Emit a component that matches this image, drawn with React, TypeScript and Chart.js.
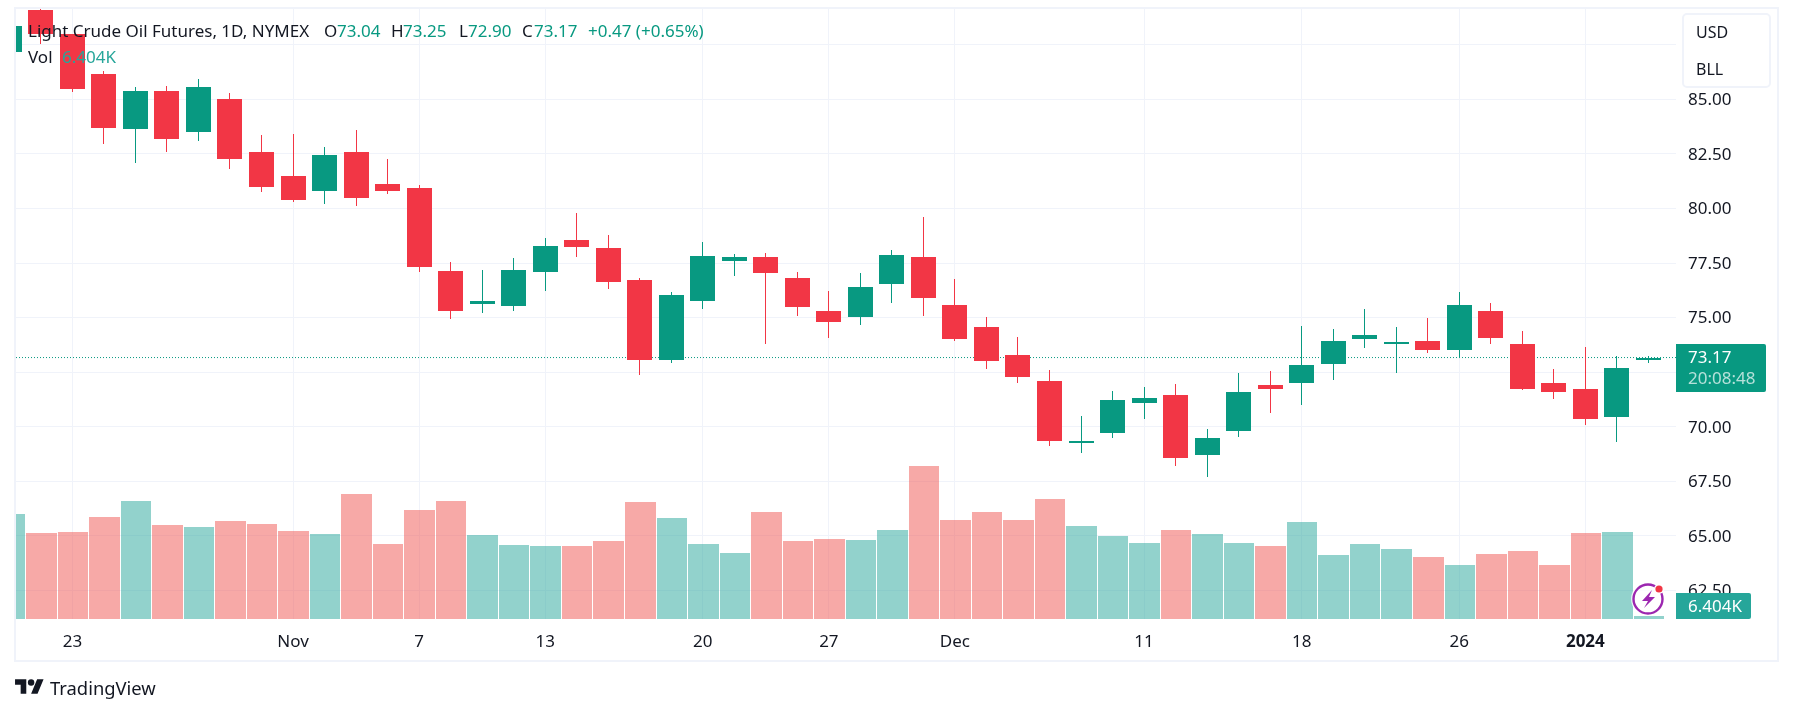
import React, { useEffect, useRef } from "react";
import { Chart, registerables } from "chart.js";

Chart.register(...registerables);

const opens = [87.18,89.09,87.99,86.16,83.64,85.38,83.50,85.02,82.59,81.49,80.80,82.59,81.12,80.94,77.14,75.63,75.53,77.09,78.56,78.19,76.73,73.06,75.76,77.60,77.78,76.82,75.31,75.03,76.54,77.78,75.58,74.57,73.29,72.10,69.26,69.72,71.09,71.46,68.71,69.81,71.92,72.01,72.88,74.02,73.79,73.93,73.52,75.31,73.79,72.01,71.73,70.45,73.04];
const closes = [88.37,87.99,85.47,83.69,85.38,83.18,85.56,82.27,80.98,80.39,82.45,80.48,80.80,77.32,75.31,75.76,77.18,78.28,78.24,76.63,73.06,76.04,77.82,77.78,77.05,75.49,74.80,76.40,77.87,75.90,74.02,73.02,72.28,69.35,69.35,71.23,71.32,68.57,69.49,71.60,71.73,72.83,73.93,74.21,73.89,73.52,75.58,74.07,71.73,71.60,70.36,72.69,73.17];
const highs = [88.60,89.17,88.00,86.30,85.56,85.61,85.93,85.29,83.37,83.41,82.82,83.60,82.27,81.08,77.55,77.18,77.73,78.65,79.79,78.79,76.82,76.18,78.47,77.92,77.96,77.09,76.22,77.05,78.10,79.61,76.77,75.03,74.11,72.60,70.50,71.64,71.82,71.96,69.90,72.47,72.56,74.62,74.48,75.40,74.57,74.98,76.18,75.67,74.39,72.65,73.66,73.25,73.25];
const lows = [87.00,87.53,85.34,82.95,82.08,82.59,83.09,81.81,80.76,80.30,80.21,80.11,80.66,77.09,74.94,75.21,75.31,76.22,77.78,76.31,72.39,72.92,75.40,76.91,73.79,75.08,74.07,74.66,75.67,75.08,73.93,72.65,72.01,69.12,68.80,69.49,70.36,68.21,67.70,69.53,70.63,71.00,72.15,73.61,72.47,73.38,73.21,73.79,71.69,71.27,70.08,69.31,72.90];
const volumes = [224,184,186,218,252,201,196,209,203,188,181,267,160,233,252,179,158,156,156,167,250,216,160,141,228,167,171,169,190,327,211,228,211,256,199,177,162,190,181,162,156,207,137,160,149,132,115,139,145,115,184,186,6.404];

const xTickIndexes = [2, 9, 13, 17, 22, 26, 30, 36, 41, 46, 50];
const xTickLabels = ["23", "Nov", "7", "13", "20", "27", "Dec", "11", "18", "26", "2024"];
const priceTicks = [87.5, 85, 82.5, 80, 77.5, 75, 72.5, 70, 67.5, 65, 62.5];
const lastPrice = 73.17;

const xMin = 0.2107;
const xMax = 52.876;
const yMin = 61.193;
const yMax = 89.137;
const volMax = 1302;

const UP = "#089981";
const DOWN = "#F23645";
const UP_VOL = "rgba(38,166,154,0.5)";
const DOWN_VOL = "rgba(239,83,80,0.5)";
const GRID = "#f0f3fa";
const TEXT = "#131722";
const FONT = '"Noto Sans", sans-serif';

const idx = opens.map((_, i) => i);
const isUp = (i: number) => closes[i] >= opens[i];

const abs = (left: number, top: number, extra: any = {}): any => ({
  position: "absolute",
  left,
  top,
  whiteSpace: "nowrap",
  fontFamily: FONT,
  ...extra,
});

// Snap bars to whole device pixels, so wicks stay crisp as in the reference.
const snapBars = {
  id: "snapBars",
  afterDatasetsUpdate(chart: any) {
    chart.data.datasets.forEach((ds: any, di: number) => {
      if (ds.type === "line") return;
      const meta = chart.getDatasetMeta(di);
      const xs = chart.scales.x;
      const step = Math.abs(xs.getPixelForValue(1) - xs.getPixelForValue(0));
      meta.data.forEach((el: any) => {
        el.y = Math.round(el.y);
        el.base = Math.round(el.base);
        if (ds.label === "Volume") {
          const l = Math.round(el.x - step / 2) + 1;
          const r = Math.round(el.x + step / 2);
          el.x = (l + r) / 2;
          el.width = r - l;
        } else {
          el.x = Math.floor(el.x) + 0.5;
        }
      });
    });
  },
};

function Legend() {
  const row = (left: number, text: string, color: string) => (
    <span style={abs(left, 20, { fontSize: 17, lineHeight: "22px", color })}>{text}</span>
  );
  return (
    <>
      {row(28, "Light Crude Oil Futures, 1D, NYMEX", TEXT)}
      {row(324, "O", TEXT)}
      {row(337, "73.04", UP)}
      {row(391, "H", TEXT)}
      {row(403, "73.25", UP)}
      {row(459, "L", TEXT)}
      {row(468, "72.90", UP)}
      {row(522, "C", TEXT)}
      {row(534, "73.17", UP)}
      {row(588, "+0.47 (+0.65%)", UP)}
      <span style={abs(28, 46, { fontSize: 17, lineHeight: "22px", color: TEXT })}>Vol</span>
      <span style={abs(62, 46, { fontSize: 17, lineHeight: "22px", color: "#26a69a" })}>6.404K</span>
    </>
  );
}

export default function App() {
  const ref = useRef<HTMLCanvasElement | null>(null);

  useEffect(() => {
    const canvas = ref.current;
    if (!canvas) return;
    const chart = new Chart(canvas, {
      type: "bar",
      plugins: [snapBars],
      data: {
        datasets: [
          {
            label: "Open / Close",
            data: idx.map((i) => ({ x: i, y: [opens[i], closes[i]] })),
            backgroundColor: idx.map((i) => (isUp(i) ? UP : DOWN)),
            barThickness: 25,
            inflateAmount: 0,
            grouped: false,
            order: 1,
            yAxisID: "y",
          },
          {
            label: "High / Low",
            data: idx.map((i) => ({ x: i, y: [lows[i], highs[i]] })),
            backgroundColor: idx.map((i) => (isUp(i) ? UP : DOWN)),
            barThickness: 1,
            inflateAmount: 0,
            grouped: false,
            order: 2,
            yAxisID: "y",
          },
          {
            type: "line",
            label: "Last",
            data: [
              { x: xMin, y: lastPrice },
              { x: xMax, y: lastPrice },
            ],
            borderColor: UP,
            borderWidth: 1,
            borderDash: [1, 2],
            pointRadius: 0,
            order: 3,
            yAxisID: "y",
          },
          {
            label: "Volume",
            data: idx.map((i) => ({ x: i, y: volumes[i] })),
            backgroundColor: idx.map((i) => (isUp(i) ? UP_VOL : DOWN_VOL)),
            barThickness: 30,
            inflateAmount: 0,
            grouped: false,
            order: 4,
            yAxisID: "vol",
          },
        ] as any,
      },
      options: {
        responsive: false,
        animation: false,
        devicePixelRatio: 1,
        layout: { padding: { left: 16, top: 9, right: 15, bottom: 53 } },
        plugins: { legend: { display: false }, tooltip: { enabled: false } },
        scales: {
          x: {
            type: "linear",
            min: xMin,
            max: xMax,
            offset: false,
            grid: { color: GRID, lineWidth: 1, offset: false, drawTicks: false },
            border: { display: false },
            afterBuildTicks: (s: any) => {
              s.ticks = xTickIndexes.map((v) => ({ value: v }));
            },
            afterFit: (s: any) => {
              s.height = 41;
              s.paddingLeft = 0;
              s.paddingRight = 0;
            },
            ticks: {
              autoSkip: false,
              maxRotation: 0,
              padding: 13,
              color: TEXT,
              font: (c: any) => ({
                family: FONT,
                size: 17,
                weight: c.tick && c.tick.value === 50 ? "bold" : "normal",
              }),
              callback: (v: any) => {
                const k = xTickIndexes.indexOf(v);
                return k >= 0 ? xTickLabels[k] : "";
              },
            },
          },
          y: {
            type: "linear",
            position: "right",
            min: yMin,
            max: yMax,
            grid: { color: GRID, lineWidth: 1, drawTicks: false },
            border: { display: false },
            afterBuildTicks: (s: any) => {
              s.ticks = priceTicks.map((v) => ({ value: v }));
            },
            afterFit: (s: any) => {
              s.width = 102;
              s.paddingTop = 0;
              s.paddingBottom = 0;
            },
            ticks: {
              padding: 12,
              labelOffset: 1,
              color: TEXT,
              font: { family: FONT, size: 17 },
              callback: (v: any) => Number(v).toFixed(2),
            },
          },
          vol: {
            type: "linear",
            display: false,
            min: 0,
            max: volMax,
          },
        },
      } as any,
    });
    return () => chart.destroy();
  }, []);

  return (
    <div style={{ position: "absolute", left: 0, top: 0, width: 1793, height: 713, overflow: "hidden", background: "#fff" }}>
      <canvas ref={ref} width={1793} height={713} style={{ position: "absolute", left: 0, top: 0, width: 1793, height: 713 }} />
      <div style={{ position: "absolute", left: 14, top: 7, width: 1765, height: 655, boxSizing: "border-box", border: `2px solid ${GRID}` }} />
      <Legend />
      <div style={{ position: "absolute", left: 1682, top: 13, width: 89, height: 75, boxSizing: "border-box", border: `2px solid ${GRID}`, borderRadius: 5, background: "#fff" }} />
      <span style={abs(1696, 21, { fontSize: 16, lineHeight: "22px", color: TEXT })}>USD</span>
      <span style={abs(1696, 58, { fontSize: 16, lineHeight: "22px", color: TEXT })}>BLL</span>
      <div style={{ position: "absolute", left: 1676, top: 344, width: 90, height: 48, background: UP, borderRadius: "0 2px 2px 0" }} />
      <span style={abs(1688, 346, { fontSize: 17, lineHeight: "22px", color: "#fff" })}>73.17</span>
      <span style={abs(1688, 367, { fontSize: 17, lineHeight: "22px", color: "rgba(255,255,255,0.7)" })}>20:08:48</span>
      <div style={{ position: "absolute", left: 1676, top: 593, width: 75, height: 26, background: "#26a69a", borderRadius: "0 2px 2px 0" }} />
      <span style={abs(1688, 595, { fontSize: 17, lineHeight: "22px", color: "#fff" })}>6.404K</span>
      <svg style={{ position: "absolute", left: 1630, top: 581 }} width={36} height={36} viewBox="0 0 36 36">
        <circle cx="18" cy="18" r="17" fill="#fff" fillOpacity="0.75" />
        <circle cx="18" cy="18" r="14.5" fill="none" stroke="#9c27b0" strokeWidth="2.4" />
        <path d="M22 9 L12 20 H18 L14 27 L25 16 H19 Z" fill="#9c27b0" />
        <circle cx="29" cy="8" r="5" fill="#fff" />
        <circle cx="29" cy="8" r="3.6" fill="#f23645" />
      </svg>
      <svg style={{ position: "absolute", left: 15, top: 676 }} width={29} height={22.5} viewBox="0 0 36 28">
        <path d="M14 22H7V11H0V4h14v18zM28 22h-8l7.5-18h8L28 22z" fill={TEXT} />
        <circle cx="20" cy="8" r="4" fill={TEXT} />
      </svg>
      <span style={abs(50, 675, { fontSize: 18.4, lineHeight: "26px", color: TEXT })}>TradingView</span>
    </div>
  );
}
